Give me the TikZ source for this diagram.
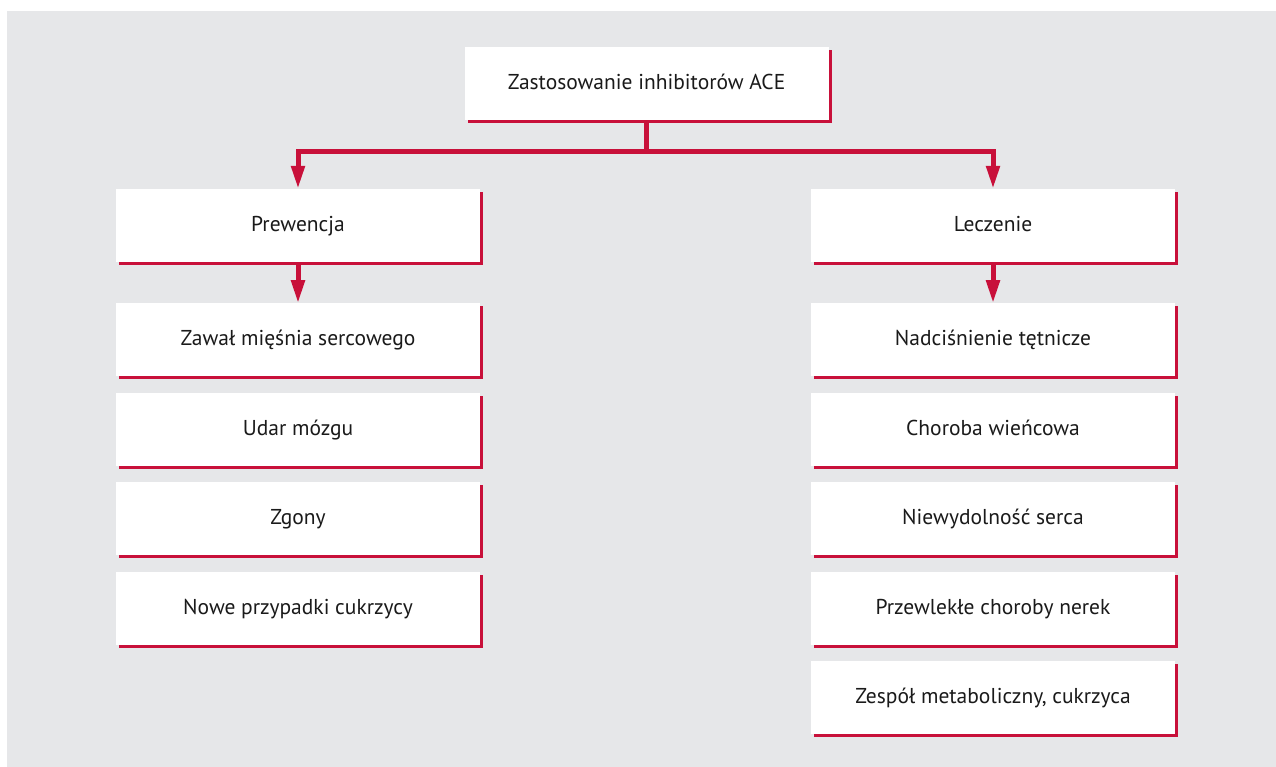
\documentclass[tikz,border=0pt]{standalone}
\usepackage{fontspec}
\setmainfont{PT Sans}
\usetikzlibrary{arrows.meta, positioning, shadows}
\definecolor{AccentRed}{HTML}{C8103A}
\definecolor{PanelGrey}{HTML}{E6E7E9}
\definecolor{TextDark}{HTML}{1A1A1A}

\begin{document}
\begin{tikzpicture}[
            x=1pt, y=-1pt,
            node distance=16pt, >={Triangle[width=13pt,length=23pt]},
            card/.style = {rectangle, fill=white, minimum width=364pt, minimum height=73pt, inner sep=0pt, text height=16pt, text depth=4pt, text=TextDark, font=\fontsize{21.5}{24}\selectfont, general shadow={fill=AccentRed, shadow xshift=3pt, shadow yshift=-3pt}},
            link/.style = {draw=AccentRed, line width=5pt}
        ]
            \useasboundingbox (0,0) rectangle (1276,767);
            \fill[PanelGrey] (7,11) rectangle (1276,767);

            \node [card] (ace) at (646.5,83.5) {Zastosowanie inhibitorów ACE};
            \node [card] (prev) at (298,225.5) {Prewencja};
            \node [card] (treat) at (993,225.5) {Leczenie};

            \node [card, below=41pt of prev] (infarct) {Zawał mięśnia sercowego};
            \node [card, below=of infarct] (stroke) {Udar mózgu};
            \node [card, below=of stroke] (deaths) {Zgony};
            \node [card, below=of deaths] (diabetes) {Nowe przypadki cukrzycy};

            \node [card, below=41pt of treat] (hyper) {Nadciśnienie tętnicze};
            \node [card, below=of hyper] (coronary) {Choroba wieńcowa};
            \node [card, below=of coronary] (failure) {Niewydolność serca};
            \node [card, below=of failure] (kidney) {Przewlekłe choroby nerek};
            \node [card, below=of kidney] (metabolic) {Zespół metaboliczny, cukrzyca};

            \coordinate (split) at ([yshift=-31pt]ace.south);
            \draw [link] (ace.south) -- (split);
            \draw [link, <->] (prev.north) |- (split) -| (treat.north);
            \draw [link, ->] (prev) -- (infarct);
            \draw [link, ->] (treat) -- (hyper);
        \end{tikzpicture}
\end{document}
